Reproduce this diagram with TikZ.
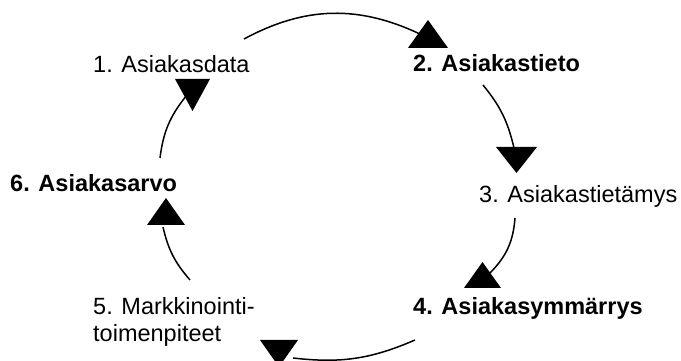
\documentclass[tikz,border=0pt]{standalone}
\usepackage{fontspec}
\setmainfont{Liberation Sans}
\begin{document}
\begin{tikzpicture}[x=1pt,y=1pt,
  lbl/.style={inner sep=0pt,anchor=base west,font=\fontsize{23.5}{27}\selectfont,align=left},
  strong/.style={lbl,font=\bfseries\fontsize{23.5}{27}\selectfont},
  cyc/.style={line width=1.5pt}]
\useasboundingbox (0,0) rectangle (681,361);

% stage labels (a two-line label sits on the baseline of its last line)
\node[lbl]    (n1) at (93,288)  {1. Asiakasdata};
\node[strong] (n2) at (413,289) {2. Asiakastieto};
\node[lbl]    (n3) at (479,158) {3. Asiakastietämys};
\node[strong] (n4) at (413,46)  {4. Asiakasymmärrys};
\node[lbl]    (n5) at (93,19)   {5. Markkinointi-\\toimenpiteet};
\node[strong] (n6) at (10,169)  {6. Asiakasarvo};

% ends of the cycle arcs
\coordinate (a1s) at (244,322); \coordinate (a1e) at (422,326);
\coordinate (a2s) at (483,276); \coordinate (a2e) at (514,213);
\coordinate (a3s) at (515,143); \coordinate (a3e) at (490,88);
\coordinate (a4s) at (415,21);  \coordinate (a4e) at (293,3);
\coordinate (a5s) at (190,81);  \coordinate (a5e) at (163,134);
\coordinate (a6s) at (160,203); \coordinate (a6e) at (187,266);

\draw[cyc] (a1s) to[bend left=27] (a1e);
\draw[cyc] (a2s) to[bend left=13] (a2e);
\draw[cyc] (a3s) to[bend left=20] (a3e);
\draw[cyc] (a4s) to[bend left=15] (a4e);
\draw[cyc] (a5s) to[bend left=14] (a5e);
\draw[cyc] (a6s) to[bend left=16] (a6e);

% arrowheads: apex points
\coordinate (t1) at (428,341);
\coordinate (t2) at (516.5,188);
\coordinate (t3) at (482.5,99);
\coordinate (t4) at (279,-6);
\coordinate (t5) at (166,163);
\coordinate (t6) at (192.5,250);

\fill (t1) -- ++(-20,-28) -- ++(40,0) -- cycle;
\fill (t2) -- ++(-20.5,26) -- ++(41,0) -- cycle;
\fill (t3) -- ++(-18.5,-26) -- ++(37,0) -- cycle;
\fill (t4) -- ++(-19,27) -- ++(38,0) -- cycle;
\fill (t5) -- ++(-19,-27) -- ++(38,0) -- cycle;
\fill (t6) -- ++(-17.5,32) -- ++(35,0) -- cycle;
\end{tikzpicture}
\end{document}
